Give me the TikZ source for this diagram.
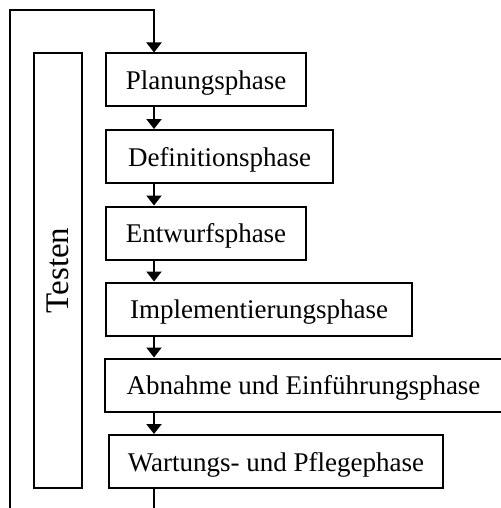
\documentclass[tikz,border=0pt]{standalone}
\usepackage{fontspec}
\setmainfont{Liberation Serif}
\usetikzlibrary{arrows.meta}

\begin{document}
\begin{tikzpicture}[x=0.5pt, y=-0.5pt, line width=1pt,
    phase/.style={draw, minimum height=26.5pt, inner sep=0pt, text depth=0pt,
        font=\fontsize{13.5}{16}\selectfont},
    testbox/.style={draw, rotate=90, minimum width=217.5pt,
        minimum height=24pt, inner sep=0pt, text depth=0pt,
        font=\fontsize{16.5}{19}\selectfont},
    flow/.style={-{Triangle[width=7.5pt, length=5pt]}}]

        % drawing parameters
        \def\ax{154} % x of the arrow column

        \useasboundingbox (0,0) rectangle (500,508);

        % the phases
        \node[phase, minimum width=100pt] (plan) at (206,80) {Planungsphase};
        \node[phase, minimum width=113.5pt] (def) at (219.5,156.5) {Definitionsphase};
        \node[phase, minimum width=100pt] (entw) at (206,233) {Entwurfsphase};
        \node[phase, minimum width=153pt] (impl) at (259,309) {Implementierungsphase};
        \node[phase, minimum width=198.5pt] (abn) at (303.5,385) {Abnahme und Einführungsphase};
        \node[phase, minimum width=167pt] (wart) at (276,461.5) {Wartungs- und Pflegephase};

        % testing runs alongside
        \node[testbox] (test) at (58,270.5) {Testen};

        % arrows between the phases
        \coordinate (ax) at (\ax,0);
        \foreach \a/\b in {plan/def, def/entw, entw/impl, impl/abn, abn/wart} {
            \draw[flow] (\a.south -| ax) -- (\b.north -| ax);
        }

        % feedback loop back to the start
        \coordinate (loopstart) at (10,508);
        \coordinate (looptop) at (\ax,10);
        \coordinate (loopend) at (\ax,508);
        \draw[flow] (loopstart) |- (looptop) -- (plan.north -| ax);
        \draw (wart.south -| ax) -- (loopend);

    \end{tikzpicture}
\end{document}
